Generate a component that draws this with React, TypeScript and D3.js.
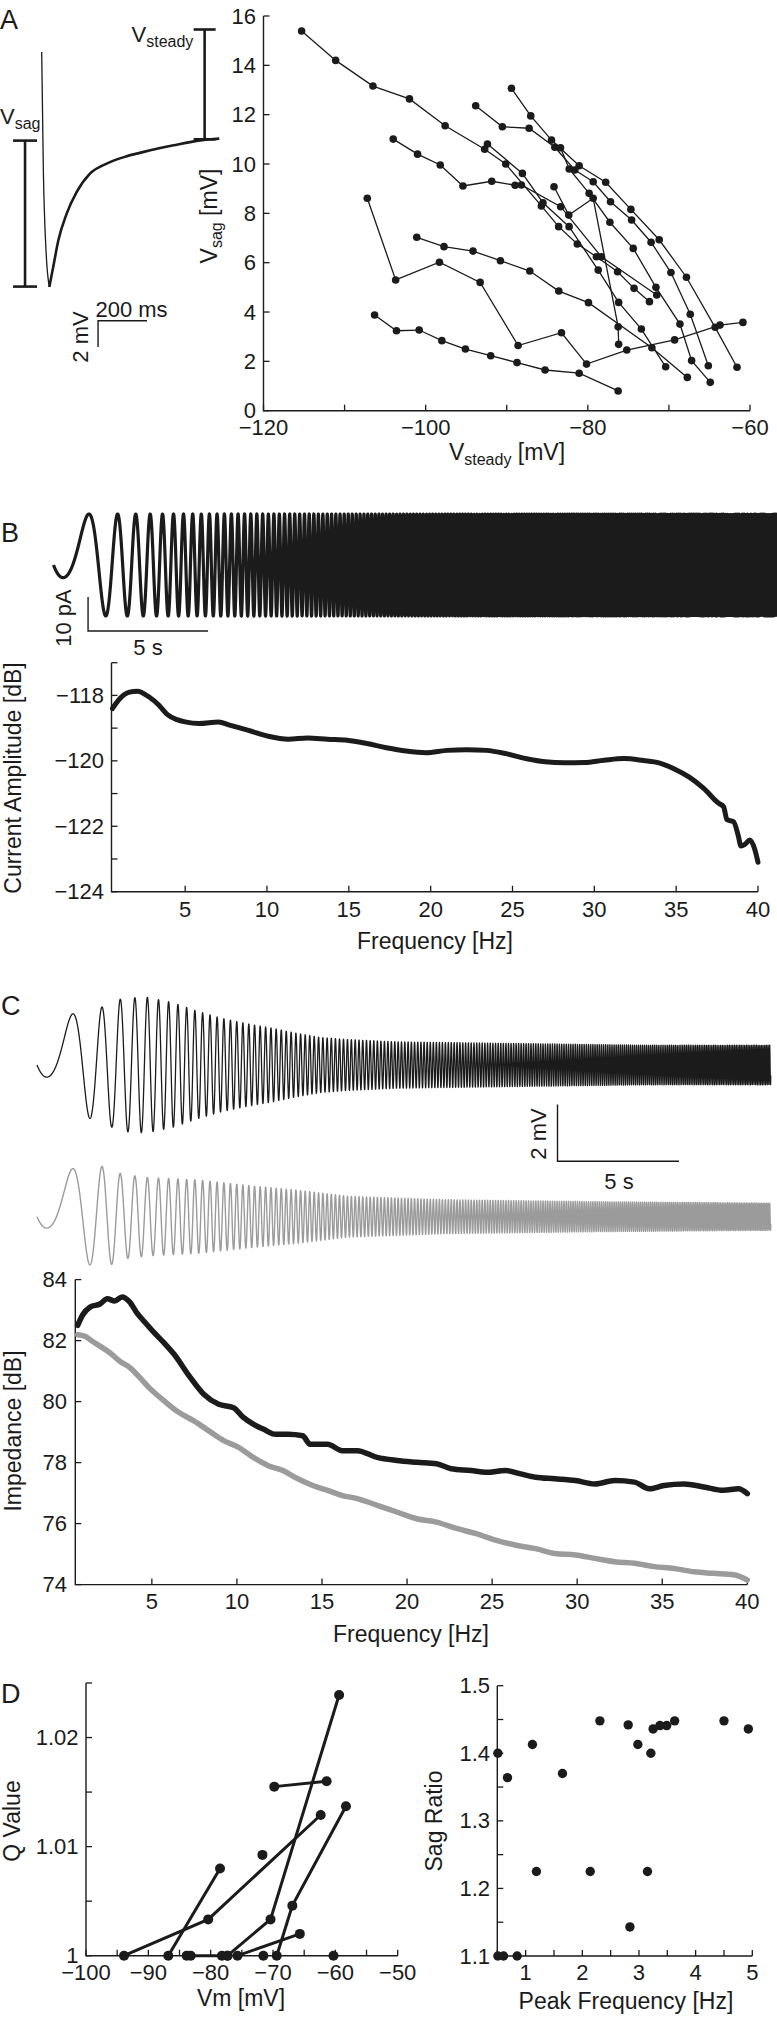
import React from 'react';
import * as d3 from 'd3';

const FONT = "'Liberation Sans', Arial, Helvetica, sans-serif";
const INK = '#1b1b1b';
const GREY = '#9b9b9b';

// ===== Panel A: example sag response (ms, mV relative to steady state)
const sagTraceMs = [0, 6.5, 17.6, 31, 47, 68, 102, 143, 197, 265, 347, 443, 538, 648, 725];
const sagTraceMv = [6.64, -2.1, -8.44, -11.23, -9.71, -7.68, -5.65, -4.0, -2.61, -1.85, -1.29, -0.84, -0.46, -0.08, 0.05];
const vSagBarMv = [-0.1, -11.2];
const vSteadyBarMv = [0, 8.35];

// ===== Panel A: Vsag vs Vsteady, one list per cell [Vsteady, Vsag]
const cellS1: [number, number][] = [[-115.3, 15.39], [-111.1, 14.2], [-106.5, 13.16], [-102.0, 12.64], [-97.6, 11.55], [-92.72, 10.6], [-90.12, 10.0], [-85.73, 8.3], [-83.6, 7.46], [-81.3, 6.76], [-78.94, 6.24], [-76.33, 5.63], [-74.3, 4.96], [-72.4, 4.42]];
const cellS2: [number, number][] = [[-104.0, 11.01], [-101.0, 10.4], [-98.2, 9.96], [-95.4, 9.11], [-91.85, 9.3], [-88.97, 9.14], [-88.19, 9.15], [-83.35, 8.27], [-78.33, 6.24], [-71.5, 4.69]];
const cellC4: [number, number][] = [[-92.38, 10.81], [-88.07, 9.62], [-85.53, 8.43], [-82.31, 7.46], [-78.72, 5.7], [-76.2, 4.39], [-73.4, 3.31], [-70.4, 1.78]];
const cellV: [number, number][] = [[-84.17, 9.08], [-82.35, 7.93], [-79.34, 8.61], [-76.26, 3.4], [-76.2, 2.69]];
const cellC1: [number, number][] = [[-89.42, 13.07], [-87.04, 11.95], [-84.48, 10.97], [-81.07, 9.93], [-77.8, 9.26], [-74.69, 8.16], [-71.2, 6.93], [-67.84, 5.41], [-64.3, 3.38], [-61.6, 1.76]];
const cellC2: [number, number][] = [[-93.83, 12.36], [-90.54, 11.51], [-87.24, 11.45], [-84.07, 10.68], [-81.6, 9.76], [-79.34, 9.28], [-77.2, 8.47], [-74.6, 7.73], [-72.2, 6.83], [-69.75, 5.6], [-67.37, 3.91], [-65.14, 1.82]];
const cellC3: [number, number][] = [[-83.37, 10.66], [-82.3, 9.8], [-79.84, 8.81], [-77.28, 7.64], [-74.4, 6.58], [-71.6, 5.0], [-68.64, 3.51], [-67.2, 2.03], [-64.9, 1.15]];
const cellMid: [number, number][] = [[-101.1, 7.03], [-97.74, 6.65], [-94.16, 6.47], [-90.78, 6.08], [-87.16, 5.66], [-83.58, 4.85], [-79.92, 4.38], [-72.1, 2.55], [-67.73, 1.35]];
const cellZig: [number, number][] = [[-107.2, 8.61], [-103.7, 5.3], [-98.3, 6.02], [-93.28, 5.2], [-88.6, 2.64], [-83.25, 3.16], [-80.16, 1.89], [-75.2, 2.46], [-69.3, 2.87], [-63.7, 3.47], [-60.87, 3.58]];
const cellBot: [number, number][] = [[-106.3, 3.88], [-103.6, 3.24], [-100.8, 3.27], [-98.0, 2.84], [-95.1, 2.5], [-91.98, 2.23], [-88.73, 1.95], [-85.28, 1.65], [-81.07, 1.52], [-76.26, 0.8]];
const sagCells = [cellS1, cellS2, cellC4, cellV, cellC1, cellC2, cellC3, cellMid, cellZig, cellBot];
const sagXTicks = [-120, -110, -100, -90, -80, -70, -60];
const sagXLabels = [-120, -100, -80, -60];
const sagYTicks = [0, 2, 4, 6, 8, 10, 12, 14, 16];

// ===== ZAP stimulus (chirp phase coefficients, cycles)
const chirpQuad = 0.25;
const chirpLin = -0.2;
const zapDuration = 30.2;
const zapCurrentEnvT = [0, 30.2];
const zapCurrentEnvPa = [15, 15];

// ===== Panel B: current amplitude spectrum
const currentFreq = [0.56, 1.0, 1.6, 2.07, 2.8, 3.4, 3.9, 4.5, 5, 5.85, 7.05, 7.66, 8.87, 10.08, 11.3, 12.5, 13.7, 14.9, 16.1, 17.3, 18.5, 19.7, 21, 22.2, 23.4, 24.6, 25.8, 27, 28.2, 29.4, 30.6, 31.8, 33, 33.95, 34.86, 35.8, 36.7, 37.6, 37.9, 38.1, 38.5, 38.8, 38.95, 39.2, 39.5, 39.8, 40];
const currentDb = [-118.4, -118.1, -117.9, -117.87, -118.05, -118.3, -118.58, -118.74, -118.81, -118.86, -118.81, -118.9, -119.07, -119.25, -119.34, -119.3, -119.34, -119.37, -119.47, -119.6, -119.7, -119.75, -119.68, -119.66, -119.68, -119.78, -119.93, -120.03, -120.06, -120.05, -119.98, -119.93, -119.99, -120.06, -120.24, -120.5, -120.85, -121.3, -121.4, -121.8, -121.86, -122.3, -122.6, -122.55, -122.42, -122.7, -123.1];
const freqTicks = [5, 10, 15, 20, 25, 30, 35, 40];
const currentYTicks = [-124, -123, -122, -121, -120, -119, -118, -117];
const currentYLabels = [-124, -122, -120, -118];

// ===== Panel C: voltage responses (envelope in mV)
const blackEnvT = [0, 1.4, 2.3, 2.8, 3.5, 4.5, 5.6, 6.6, 7.6, 8.7, 9.7, 10.7, 11.7, 12.8, 14.8, 19, 25, 30.2];
const blackEnvMv = [1.7, 1.8, 1.9, 2.1, 2.35, 2.4, 2.2, 1.9, 1.65, 1.45, 1.3, 1.12, 0.97, 0.9, 0.82, 0.77, 0.7, 0.7];
const greyEnvT = [0, 1.4, 2.3, 2.8, 3.5, 4.6, 6.6, 8.7, 10.7, 12.8, 16.8, 23, 30.2];
const greyEnvMv = [1.6, 1.7, 1.7, 1.8, 1.5, 1.38, 1.3, 1.1, 0.94, 0.72, 0.6, 0.53, 0.48];

// ===== Panel C: impedance
const impFreqBlack = [0.64, 0.93, 1.37, 1.95, 2.38, 2.82, 3.25, 3.69, 4.13, 4.56, 5.15, 5.73, 6.31, 7.18, 8.05, 8.93, 9.8, 10.38, 10.96, 11.55, 12.27, 13.0, 13.87, 14.3, 15.33, 16.2, 17.07, 18.24, 19.4, 20.57, 21.73, 22.6, 23.77, 24.64, 25.8, 26.68, 27.55, 28.7, 29.9, 31.04, 32.2, 33.37, 34.24, 35.1, 36.28, 37.44, 38.6, 39.48, 40];
const impDbBlack = [82.5, 82.84, 83.1, 83.2, 83.37, 83.3, 83.43, 83.27, 82.9, 82.62, 82.25, 81.92, 81.55, 80.85, 80.24, 79.91, 79.8, 79.48, 79.26, 79.1, 78.93, 78.93, 78.88, 78.6, 78.6, 78.39, 78.39, 78.17, 78.07, 78.01, 77.96, 77.8, 77.74, 77.68, 77.74, 77.63, 77.52, 77.47, 77.41, 77.3, 77.41, 77.36, 77.14, 77.25, 77.3, 77.2, 77.09, 77.14, 76.98];
const impFreqGrey = [0.64, 1.07, 1.5, 1.95, 2.53, 3.1, 3.69, 4.27, 4.85, 5.73, 6.6, 7.47, 8.35, 9.22, 10.1, 10.96, 11.84, 12.7, 13.58, 14.46, 15.33, 16.2, 17.07, 18.24, 19.4, 20.57, 21.73, 22.9, 24.06, 25.2, 26.4, 27.55, 28.7, 29.9, 31.04, 32.2, 33.37, 34.53, 35.7, 36.86, 38.0, 39.2, 40];
const impDbGrey = [82.19, 82.14, 81.98, 81.82, 81.6, 81.33, 81.12, 80.8, 80.45, 80.02, 79.64, 79.37, 79.04, 78.72, 78.5, 78.17, 77.9, 77.74, 77.47, 77.25, 77.09, 76.92, 76.82, 76.6, 76.38, 76.16, 76.05, 75.84, 75.67, 75.46, 75.29, 75.18, 75.02, 74.97, 74.86, 74.75, 74.7, 74.59, 74.53, 74.42, 74.37, 74.32, 74.15];
const impYTicks = [74, 76, 78, 80, 82, 84];

// ===== Panel D left: Q value vs Vm
const qCellA: [number, number][] = [[-93.9, 1.0], [-80.4, 1.00333], [-62.35, 1.0129]];
const qCellB: [number, number][] = [[-86.8, 1.0], [-78.5, 1.008]];
const qCellC: [number, number][] = [[-69.8, 1.0155], [-61.4, 1.016]];
const qCellD: [number, number][] = [[-69.4, 1.0], [-66.9, 1.00459], [-58.3, 1.0137]];
const qCellE: [number, number][] = [[-77.3, 1.0], [-70.4, 1.00333], [-59.4, 1.0239]];
const qCellF: [number, number][] = [[-75.7, 1.0], [-65.7, 1.002]];
const qCellG: [number, number][] = [[-83.85, 1.0], [-83.2, 1.0], [-78.2, 1.0], [-77.3, 1.0]];
const qCells = [qCellA, qCellB, qCellC, qCellD, qCellE, qCellF, qCellG];
const qSingles: [number, number][] = [[-71.7, 1.00924], [-71.55, 1.0], [-60.3, 1.0]];
const vmTicks = [-100, -95, -90, -85, -80, -75, -70, -65, -60, -55, -50];
const vmLabels = [-100, -90, -80, -70, -60, -50];
const qTicks = [1, 1.005, 1.01, 1.015, 1.02, 1.025];
const qLabels = [1, 1.01, 1.02];

// ===== Panel D right: sag ratio vs peak frequency
const peakFreqHz = [0.51, 0.68, 0.51, 0.61, 0.85, 1.12, 1.19, 1.65, 2.14, 2.31, 2.81, 2.84, 2.98, 3.15, 3.21, 3.25, 3.37, 3.49, 3.63, 4.5, 4.93];
const sagRatio = [1.4, 1.364, 1.1, 1.1, 1.1, 1.413, 1.225, 1.37, 1.225, 1.448, 1.442, 1.143, 1.413, 1.225, 1.4, 1.436, 1.441, 1.441, 1.448, 1.448, 1.436];
const pfTicks = [0.5, 1, 1.5, 2, 2.5, 3, 3.5, 4, 4.5, 5];
const pfLabels = [1, 2, 3, 4, 5];
const srTicks = [1.1, 1.15, 1.2, 1.25, 1.3, 1.35, 1.4, 1.45, 1.5];
const srLabels = [1.1, 1.2, 1.3, 1.4, 1.5];

type Sc = d3.ScaleLinear<number, number>;
const fmt = (v: number) => String(v).replace('-', '\u2212');

function Axes(props: {
  x: Sc; y: Sc; xTicks: number[]; yTicks: number[]; xLabels: number[]; yLabels: number[];
  xBase: number; yRight: number;
}) {
  const { x, y, xTicks, yTicks, xLabels, yLabels, xBase, yRight } = props;
  const [x0, x1] = x.range();
  const [y0, y1] = y.range();
  const tl = 6;
  return (
    <g>
      <path d={`M${x0},${y1}V${y0}H${x1}`} fill="none" stroke={INK} strokeWidth={1.4} />
      {xTicks.map((t) => (
        <line key={'xt' + t} x1={x(t)} x2={x(t)} y1={y0} y2={y0 - tl} stroke={INK} strokeWidth={1.3} />
      ))}
      {yTicks.map((t) => (
        <line key={'yt' + t} x1={x0} x2={x0 + tl} y1={y(t)} y2={y(t)} stroke={INK} strokeWidth={1.3} />
      ))}
      {xLabels.map((t) => (
        <text key={'xl' + t} x={x(t)} y={xBase} textAnchor="middle" fontSize={22}>{fmt(t)}</text>
      ))}
      {yLabels.map((t) => (
        <text key={'yl' + t} x={yRight} y={y(t) + 7.5} textAnchor="end" fontSize={22}>{fmt(t)}</text>
      ))}
    </g>
  );
}

const tGrid = d3.range(0, zapDuration, 0.004);
function zap(envT: number[], envA: number[]): [number, number][] {
  const env = d3.scaleLinear().domain(envT).range(envA).clamp(true);
  return tGrid.map((t) => [t, env(t) * Math.sin(2 * Math.PI * (chirpQuad * t * t + chirpLin * t))]);
}

export default function App() {
  // ---- Panel A trace
  const xTr = d3.scaleLinear().domain([0, 200]).range([41.7, 90.7]);
  const yTr = d3.scaleLinear().domain([0, 2]).range([139.3, 113]);
  const trPts = sagTraceMs.map((t, i) => [t, sagTraceMv[i]] as [number, number]);
  const trLine = d3.line<[number, number]>().x((d) => xTr(d[0])).y((d) => yTr(d[1])).curve(d3.curveMonotoneX);
  const thinPath = trLine(trPts.slice(0, 4)) || '';
  const thickPath = trLine(trPts.slice(3)) || '';
  const sagBarX = xTr(-68);
  const steadyBarX = xTr(665);

  // ---- Panel A scatter
  const xS = d3.scaleLinear().domain([-120, -60]).range([263.5, 750]);
  const yS = d3.scaleLinear().domain([0, 16]).range([410.7, 16]);
  const sLine = d3.line<[number, number]>().x((d) => xS(d[0])).y((d) => yS(d[1]));

  // ---- Panel B trace
  const xZB = d3.scaleLinear().domain([0, 5]).range([53.5, 173.5]);
  const yZB = d3.scaleLinear().domain([0, 10]).range([565, 531]);
  const zapB = zap(zapCurrentEnvT, zapCurrentEnvPa);
  const zapBPath = d3.line<[number, number]>().x((d) => xZB(d[0])).y((d) => yZB(d[1]))(zapB) || '';

  // ---- Panel B spectrum
  const xB = d3.scaleLinear().domain([0.5, 40]).range([111.5, 758]);
  const yB = d3.scaleLinear().domain([-124, -117]).range([891.7, 662.7]);
  const bPath = d3.line<number>().x((_, i) => xB(currentFreq[i])).y((d) => yB(d)).curve(d3.curveMonotoneX)(currentDb) || '';

  // ---- Panel C traces
  const xZC = d3.scaleLinear().domain([0, 5]).range([37, 158.5]);
  const yZCb = d3.scaleLinear().domain([0, 2]).range([1065, 1008.4]);
  const yZCg = d3.scaleLinear().domain([0, 2]).range([1216.7, 1160.1]);
  const blackPath = d3.line<[number, number]>().x((d) => xZC(d[0])).y((d) => yZCb(d[1]))(zap(blackEnvT, blackEnvMv)) || '';
  const greyPath = d3.line<[number, number]>().x((d) => xZC(d[0])).y((d) => yZCg(d[1]))(zap(greyEnvT, greyEnvMv)) || '';

  // ---- Panel C impedance
  const xC = d3.scaleLinear().domain([0.5, 40]).range([75.3, 747.3]);
  const yC = d3.scaleLinear().domain([74, 84]).range([1584.6, 1279.6]);
  const impBlackPath = d3.line<number>().x((_, i) => xC(impFreqBlack[i])).y((d) => yC(d)).curve(d3.curveMonotoneX)(impDbBlack) || '';
  const impGreyPath = d3.line<number>().x((_, i) => xC(impFreqGrey[i])).y((d) => yC(d)).curve(d3.curveMonotoneX)(impDbGrey) || '';

  // ---- Panel D
  const xQ = d3.scaleLinear().domain([-100, -50]).range([86, 397.7]);
  const yQ = d3.scaleLinear().domain([1, 1.025]).range([1955.7, 1683]);
  const qLine = d3.line<[number, number]>().x((d) => xQ(d[0])).y((d) => yQ(d[1]));
  const xP = d3.scaleLinear().domain([0.5, 5]).range([497.3, 752.3]);
  const yP = d3.scaleLinear().domain([1.1, 1.5]).range([1956, 1685.7]);

  return (
    <svg width={777} height={2017} viewBox="0 0 777 2017"
      style={{ position: 'absolute', left: 0, top: 0, background: '#fff' }}
      fontFamily={FONT} fill={INK}>
      <rect x={0} y={0} width={777} height={2017} fill="#fff" />
      {/* panel letters */}
      <text x={0} y={29} fontSize={27}>A</text>
      <text x={1} y={542} fontSize={27}>B</text>
      <text x={1} y={1015} fontSize={27}>C</text>
      <text x={1} y={1703} fontSize={27}>D</text>

      {/* ===== Panel A left: trace */}
      <path d={thinPath} fill="none" stroke={INK} strokeWidth={1.3} />
      <path d={thickPath} fill="none" stroke={INK} strokeWidth={2.6} strokeLinejoin="round" />
      <g stroke={INK} strokeWidth={2.6}>
        <line x1={sagBarX} x2={sagBarX} y1={yTr(vSagBarMv[0])} y2={yTr(vSagBarMv[1])} />
        <line x1={sagBarX - 12} x2={sagBarX + 12} y1={yTr(vSagBarMv[0])} y2={yTr(vSagBarMv[0])} />
        <line x1={sagBarX - 12} x2={sagBarX + 12} y1={yTr(vSagBarMv[1])} y2={yTr(vSagBarMv[1])} />
        <line x1={steadyBarX} x2={steadyBarX} y1={yTr(vSteadyBarMv[0])} y2={yTr(vSteadyBarMv[1])} />
        <line x1={steadyBarX - 11} x2={steadyBarX + 11} y1={yTr(vSteadyBarMv[0])} y2={yTr(vSteadyBarMv[0])} />
        <line x1={steadyBarX - 11} x2={steadyBarX + 11} y1={yTr(vSteadyBarMv[1])} y2={yTr(vSteadyBarMv[1])} />
      </g>
      <text x={0} y={123.5} fontSize={22}>V<tspan fontSize={16} dy={5}>sag</tspan></text>
      <text x={131.5} y={41.7} fontSize={22}>V<tspan fontSize={16} dy={5}>steady</tspan></text>
      <path d={`M${xTr(430)},${yTr(-13.8)}H${xTr(230)}V${yTr(-15.8)}`} fill="none" stroke={INK} strokeWidth={1.4} />
      <text x={131.5} y={317} textAnchor="middle" fontSize={22}>200 ms</text>
      <text transform="translate(88,337) rotate(-90)" textAnchor="middle" fontSize={22}>2 mV</text>

      {/* ===== Panel A right: scatter */}
      <Axes x={xS} y={yS} xTicks={sagXTicks} yTicks={sagYTicks} xLabels={sagXLabels} yLabels={sagYTicks} xBase={435} yRight={256} />
      {sagCells.map((c, i) => (
        <path key={'sl' + i} d={sLine(c) || ''} fill="none" stroke={INK} strokeWidth={1.3} />
      ))}
      {sagCells.map((c, i) => c.map((p, j) => (
        <circle key={`sp${i}-${j}`} cx={xS(p[0])} cy={yS(p[1])} r={3.8} fill={INK} />
      )))}
      <text transform="translate(217,216) rotate(-90)" textAnchor="middle" fontSize={23}>V<tspan fontSize={16} dy={5}>sag</tspan><tspan dy={-5}> [mV]</tspan></text>
      <text x={507} y={460} textAnchor="middle" fontSize={23}>V<tspan fontSize={16} dy={5}>steady</tspan><tspan dy={-5}> [mV]</tspan></text>

      {/* ===== Panel B: current trace */}
      <path d={zapBPath} fill="none" stroke={INK} strokeWidth={3.2} strokeLinejoin="round" />
      <path d={`M${xZB(1.44)},${yZB(-9.4)}V${yZB(-19.4)}H${xZB(6.44)}`} fill="none" stroke={INK} strokeWidth={1.4} />
      <text transform="translate(71,618) rotate(-90)" textAnchor="middle" fontSize={22}>10 pA</text>
      <text x={148} y={655} textAnchor="middle" fontSize={22}>5 s</text>

      {/* ===== Panel B: spectrum */}
      <Axes x={xB} y={yB} xTicks={freqTicks} yTicks={currentYTicks} xLabels={freqTicks} yLabels={currentYLabels} xBase={917} yRight={104} />
      <path d={bPath} fill="none" stroke={INK} strokeWidth={5} strokeLinejoin="round" strokeLinecap="round" />
      <text transform="translate(21,778) rotate(-90)" textAnchor="middle" fontSize={23}>Current Amplitude [dB]</text>
      <text x={435} y={949} textAnchor="middle" fontSize={23}>Frequency [Hz]</text>

      {/* ===== Panel C: voltage traces */}
      <path d={blackPath} fill="none" stroke={INK} strokeWidth={1.3} strokeLinejoin="round" />
      <path d={greyPath} fill="none" stroke={GREY} strokeWidth={1.4} strokeLinejoin="round" />
      <path d={`M${xZC(21.42)},${yZCb(-1.4)}V${yZCb(-3.4)}H${xZC(26.42)}`} fill="none" stroke={INK} strokeWidth={1.4} />
      <text transform="translate(546,1134) rotate(-90)" textAnchor="middle" fontSize={22}>2 mV</text>
      <text x={619} y={1188.5} textAnchor="middle" fontSize={22}>5 s</text>

      {/* ===== Panel C: impedance */}
      <Axes x={xC} y={yC} xTicks={freqTicks} yTicks={impYTicks} xLabels={freqTicks} yLabels={impYTicks} xBase={1609} yRight={67} />
      <path d={impGreyPath} fill="none" stroke={GREY} strokeWidth={5.5} strokeLinejoin="round" strokeLinecap="round" />
      <path d={impBlackPath} fill="none" stroke={INK} strokeWidth={5.5} strokeLinejoin="round" strokeLinecap="round" />
      <text transform="translate(21,1431) rotate(-90)" textAnchor="middle" fontSize={23}>Impedance [dB]</text>
      <text x={411} y={1642} textAnchor="middle" fontSize={23}>Frequency [Hz]</text>

      {/* ===== Panel D left */}
      <Axes x={xQ} y={yQ} xTicks={vmTicks} yTicks={qTicks} xLabels={vmLabels} yLabels={qLabels} xBase={1980} yRight={78.5} />
      {qCells.map((c, i) => (
        <path key={'ql' + i} d={qLine(c) || ''} fill="none" stroke={INK} strokeWidth={3} />
      ))}
      {qCells.concat([qSingles]).map((c, i) => c.map((p, j) => (
        <circle key={`qp${i}-${j}`} cx={xQ(p[0])} cy={yQ(p[1])} r={5} fill={INK} />
      )))}
      <text transform="translate(19.5,1821) rotate(-90)" textAnchor="middle" fontSize={23}>Q Value</text>
      <text x={241} y={2006} textAnchor="middle" fontSize={23}>Vm [mV]</text>

      {/* ===== Panel D right */}
      <Axes x={xP} y={yP} xTicks={pfTicks} yTicks={srTicks} xLabels={pfLabels} yLabels={srLabels} xBase={1980} yRight={490} />
      {peakFreqHz.map((f, i) => (
        <circle key={'pf' + i} cx={xP(f)} cy={yP(sagRatio[i])} r={4.7} fill={INK} />
      ))}
      <text transform="translate(441.5,1821) rotate(-90)" textAnchor="middle" fontSize={23}>Sag Ratio</text>
      <text x={626} y={2009} textAnchor="middle" fontSize={23}>Peak Frequency [Hz]</text>
    </svg>
  );
}
